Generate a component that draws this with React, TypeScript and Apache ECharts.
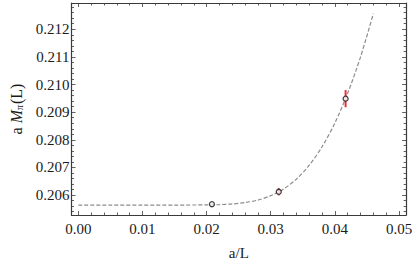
import React, { useEffect, useRef } from "react";
import * as echarts from "echarts";

// Lattice data points: a/L, a M_pi(L), error
const aL = [0.02083, 0.03125, 0.04167];
const mPi = [0.20567, 0.20612, 0.20949];
const mPiErr = [0.00002, 0.00013, 0.00031];

// Fit curve
const fitX = [0, 0.005, 0.01, 0.015, 0.02, 0.022, 0.024, 0.026, 0.028, 0.03, 0.032, 0.034, 0.036, 0.038, 0.04, 0.042, 0.044, 0.046];
const fitY = [0.20564, 0.20564, 0.20564, 0.20564, 0.205645, 0.205655, 0.20568, 0.20573, 0.20582, 0.20598, 0.20622, 0.20658, 0.20708, 0.20775, 0.20861, 0.20969, 0.211, 0.21257];

const xMajor = [0, 0.01, 0.02, 0.03, 0.04, 0.05];
const xMinor = [0.002, 0.004, 0.006, 0.008, 0.012, 0.014, 0.016, 0.018, 0.022, 0.024, 0.026, 0.028, 0.032, 0.034, 0.036, 0.038, 0.042, 0.044, 0.046, 0.048];
const yMajor = [0.206, 0.207, 0.208, 0.209, 0.21, 0.211, 0.212];
const yMinor = [0.2054, 0.2056, 0.2058, 0.2062, 0.2064, 0.2066, 0.2068, 0.2072, 0.2074, 0.2076, 0.2078, 0.2082, 0.2084, 0.2086, 0.2088, 0.2092, 0.2094, 0.2096, 0.2098, 0.2102, 0.2104, 0.2106, 0.2108, 0.2112, 0.2114, 0.2116, 0.2118, 0.2122, 0.2124, 0.2126, 0.2128];

const FONT = '"Liberation Serif", "DejaVu Serif", serif';
const FRAME = "#3a3a3a";
const TXT = "#1a1a1a";
const XMIN = -0.00106;
const XMAX = 0.0511;
const YMIN = 0.20528;
const YMAX = 0.21295;

export default function App() {
  const ref = useRef<HTMLDivElement>(null);
  useEffect(() => {
    if (!ref.current) return;
    const chart = echarts.init(ref.current, undefined, { renderer: "svg" });

    const baseX = (position: string, ticks: number[], len: number, showLine: boolean, labels: boolean, name?: string) => ({
      type: "value",
      position,
      offset: 0,
      min: XMIN,
      max: XMAX,
      name,
      nameLocation: "middle",
      nameGap: 30,
      nameTextStyle: { fontFamily: FONT, fontSize: 15, color: TXT },
      axisLine: { show: showLine, onZero: false, lineStyle: { color: FRAME, width: 1.2 } },
      axisTick: { show: true, inside: true, length: len, customValues: ticks, lineStyle: { color: FRAME, width: 0.8 } },
      axisLabel: labels
        ? { show: true, customValues: xMajor, margin: 6, fontFamily: FONT, fontSize: 15, color: TXT, formatter: (v: number) => v.toFixed(2) }
        : { show: false },
      splitLine: { show: false },
    });
    const baseY = (position: string, ticks: number[], len: number, showLine: boolean, labels: boolean, name?: string) => ({
      type: "value",
      position,
      offset: 0,
      min: YMIN,
      max: YMAX,
      name,
      nameLocation: "middle",
      nameGap: 47,
      nameRotate: 90,
      nameTextStyle: {
        fontFamily: FONT,
        fontSize: 15,
        color: TXT,
        rich: {
          i: { fontFamily: FONT, fontSize: 16, fontStyle: "italic", color: TXT },
          s: { fontFamily: FONT, fontSize: 10, fontStyle: "italic", color: TXT, verticalAlign: "bottom", padding: [7, 1, 0, 0] },
          n: { fontFamily: FONT, fontSize: 16, color: TXT },
        },
      },
      axisLine: { show: showLine, onZero: false, lineStyle: { color: FRAME, width: 1.2 } },
      axisTick: { show: true, inside: true, length: len, customValues: ticks, lineStyle: { color: FRAME, width: 0.8 } },
      axisLabel: labels
        ? { show: true, customValues: yMajor, margin: 2, fontFamily: FONT, fontSize: 15, color: TXT, formatter: (v: number) => v.toFixed(3) }
        : { show: false },
      splitLine: { show: false },
    });

    chart.setOption({
      animation: false,
      backgroundColor: "#ffffff",
      grid: { left: 63.5, top: 3, right: 7, bottom: 54, containLabel: false },
      xAxis: [
        baseX("bottom", xMajor, 4, true, true, "a/L"),
        baseX("bottom", xMinor, 2.5, false, false),
        baseX("top", xMajor, 4, true, false),
        baseX("top", xMinor, 2.5, false, false),
      ],
      yAxis: [
        baseY("left", yMajor, 4, true, true, "{n|a }{i|M}{s|π}{n|(L)}"),
        baseY("left", yMinor, 2.5, false, false),
        baseY("right", yMajor, 4, true, false),
        baseY("right", yMinor, 2.5, false, false),
      ],
      series: [
        {
          type: "line",
          data: fitX.map((x, i) => [x, fitY[i]]),
          showSymbol: false,
          smooth: 0.3,
          lineStyle: { color: "#8c8c8c", width: 1.2, type: [4, 2] },
          z: 2,
        },
        {
          type: "custom",
          data: aL.map((x, i) => [x, mPi[i], mPiErr[i]]),
          renderItem: (params: any, api: any) => {
            const x = api.value(0);
            const y = api.value(1);
            const e = api.value(2);
            const p1 = api.coord([x, y + e]);
            const p2 = api.coord([x, y - e]);
            return {
              type: "line",
              shape: { x1: p1[0], y1: p1[1], x2: p2[0], y2: p2[1] },
              style: { stroke: "#e8303a", lineWidth: 2 },
            };
          },
          z: 3,
        },
        {
          type: "scatter",
          data: aL.map((x, i) => [x, mPi[i]]),
          symbol: "circle",
          symbolSize: 5,
          itemStyle: { color: "#ffffff", borderColor: "#111", borderWidth: 1.3 },
          z: 4,
        },
      ],
    });
    return () => chart.dispose();
  }, []);
  return <div ref={ref} style={{ position: "fixed", left: 0, top: 0, width: 415, height: 269 }} />;
}
